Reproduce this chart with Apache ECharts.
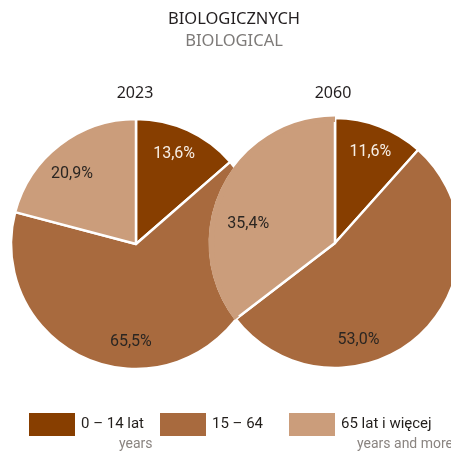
<!DOCTYPE html>
<html>
<head>
<meta charset="utf-8">
<script src="https://cdn.jsdelivr.net/npm/echarts@6/dist/echarts.min.js"></script>
<style>html,body{margin:0;padding:0;background:#fff}#c{width:451px;height:451px}</style>
</head>
<body>
<div id="c"></div>
<script>
// Data
var categories = ['0 – 14 lat', '15 – 64', '65 lat i więcej'];
var categorySub = ['years', '', 'years and more'];
var years = ['2023', '2060'];
var values2023 = [13.6, 65.5, 20.9];
var values2060 = [11.6, 53.0, 35.4];
var titleMain = 'BIOLOGICZNYCH';
var titleSub = 'BIOLOGICAL';

// Styles
var colors = ['#873e00', '#a86a3e', '#cb9d7b'];
var labelColors = ['#f7efe6', '#2b2622', '#2b2622'];
var NARROW = 'Roboto, "Liberation Sans Narrow", sans-serif';
var SANS = '"Noto Sans", "Open Sans", sans-serif';

function fmt(v) { return v.toFixed(1).replace('.', ',') + '%'; }

function pieData(vals, nameSuffix, colorList) {
  return vals.map(function (v, i) {
    return {
      name: categories[i] + (nameSuffix || ''),
      value: v,
      itemStyle: { color: (colorList || colors)[i] },
      label: { color: labelColors[i] }
    };
  });
}

var off2023 = [[11, -30], [-20, 34], [-24, -18]];
var off2060 = [[12, -30], [-21, 49], [-28, 10]];

var chart = echarts.init(document.getElementById('c'), null, { renderer: 'canvas' });

var legends = categories.map(function (c, i) {
  var lefts = [29, 160, 289];
  var subPad = [39, 0, 17];
  return {
    left: lefts[i], top: 394.5, padding: 0,
    itemWidth: 46, itemHeight: 23, itemGap: 0, icon: 'rect',
    data: [c],
    selectedMode: false,
    itemStyle: { borderWidth: 0 },
    formatter: function (name) {
      return '{s| }\n{a|' + name + '}\n{b|' + (categorySub[i] || ' ') + '}';
    },
    textStyle: {
      rich: {
        s: { fontSize: 15, lineHeight: 20, height: 20 },
        a: { fontSize: 15, lineHeight: 20, height: 20, color: '#231f1c', fontFamily: NARROW, padding: [0, 0, 0, 1] },
        b: { fontSize: 14, lineHeight: 20, height: 20, color: '#8a8480', fontFamily: NARROW, padding: [0, 0, 0, subPad[i]] }
      }
    }
  };
});

var option = {
  animation: false,
  title: [
    {
      text: titleMain, subtext: titleSub,
      left: 234, top: 11, textAlign: 'center', itemGap: 5, padding: 0,
      textStyle: { fontFamily: SANS, fontSize: 16.5, fontWeight: 'normal', color: '#231f20' },
      subtextStyle: { fontFamily: SANS, fontSize: 16.5, color: '#7d7a78' }
    },
    {
      text: years[0], left: 135, top: 85, textAlign: 'center', padding: 0,
      textStyle: { fontFamily: SANS, fontSize: 16, fontWeight: 'normal', color: '#231f20' }
    },
    {
      text: years[1], left: 333, top: 85, textAlign: 'center', padding: 0,
      textStyle: { fontFamily: SANS, fontSize: 16, fontWeight: 'normal', color: '#231f20' }
    }
  ],
  legend: legends,
  series: [
    {
      type: 'pie', name: years[0], center: [136, 244], radius: 125,
      startAngle: 90, clockwise: true, z: 1, silent: true,
      itemStyle: { borderColor: '#fff', borderWidth: 2.5 },
      label: {
        show: true, position: 'inside', fontFamily: NARROW, fontSize: 16,
        formatter: function (p) { return fmt(p.value); }
      },
      labelLine: { show: false },
      labelLayout: function (p) { return { dx: off2023[p.dataIndex][0], dy: off2023[p.dataIndex][1] }; },
      emphasis: { disabled: true },
      data: pieData(values2023)
    },
    {
      type: 'pie', name: years[1], center: [335, 243], radius: 125,
      startAngle: 90, clockwise: true, z: 2, silent: true,
      itemStyle: { borderColor: '#fff', borderWidth: 2.5 },
      label: { show: false },
      labelLine: { show: false },
      emphasis: { disabled: true },
      data: pieData(values2060)
    },
    {
      // edge ring hiding the outer white border where 2060 overlaps 2023
      type: 'pie', name: years[1] + ' edge', center: [335, 243], radius: [121, 126.5],
      startAngle: 90, clockwise: true, z: 3, silent: true,
      itemStyle: { borderWidth: 0 },
      label: { show: false }, labelLine: { show: false },
      emphasis: { disabled: true },
      data: pieData(values2060, ' edge', ['rgba(0,0,0,0)', 'rgba(0,0,0,0)', colors[2]])
    },
    {
      // labels for 2060 drawn on top
      type: 'pie', name: years[1] + ' labels', center: [335, 243], radius: 125,
      startAngle: 90, clockwise: true, z: 4, silent: true,
      itemStyle: { color: 'rgba(0,0,0,0)', borderWidth: 0 },
      label: {
        show: true, position: 'inside', fontFamily: NARROW, fontSize: 16,
        formatter: function (p) { return fmt(p.value); }
      },
      labelLine: { show: false },
      labelLayout: function (p) { return { dx: off2060[p.dataIndex][0], dy: off2060[p.dataIndex][1] }; },
      emphasis: { disabled: true },
      data: values2060.map(function (v, i) {
        return { name: categories[i] + ' labels', value: v, itemStyle: { color: 'rgba(0,0,0,0)' }, label: { color: labelColors[i] } };
      })
    }
  ]
};
chart.setOption(option);
</script>
</body>
</html>
